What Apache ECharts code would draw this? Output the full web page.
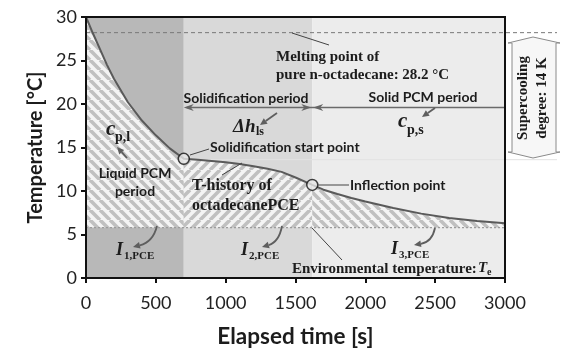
<!DOCTYPE html>
<html><head><meta charset="utf-8">
<script src="https://cdn.jsdelivr.net/npm/echarts@6/dist/echarts.min.js"></script>
<style>html,body{margin:0;padding:0;background:#fff}#c{width:564px;height:353px}</style>
</head><body><div id="c"></div>
<script>
// ---- data ----
const timeS = [0,50,100,150,200,300,400,500,600,700,800,900,1000,1100,1200,1300,1400,1500,1620,1700,1800,1900,2000,2200,2400,2600,2800,3000];
const tempC = [30,28.1,26.3,24.5,22.9,20.2,18.1,16.4,14.9,13.7,13.6,13.45,13.3,13.1,12.85,12.55,12.2,11.55,10.7,10.15,9.65,9.2,8.8,8.05,7.4,6.9,6.55,6.3];
const periodBounds = [0, 700, 1620, 3000];
const envTemp = 5.8;
const meltTemp = 28.2;
const startPoint = [700, 13.7];
const inflectionPoint = [1620, 10.7];
const xTickInterval = 500;
const yTickInterval = 5;

// ---- styles ----
const bandColors = ['#b8b8b8', '#d9d9d9', '#ececec'];
const SERIF = '"Liberation Serif", "Times New Roman", serif';
const SANS = 'Lato, "Open Sans", sans-serif';
const TXT = '#1c1c1c';
const ARW = '#5e5e5e';

function hatch(dir){
  const s = 10, c = document.createElement('canvas');
  c.width = s; c.height = s;
  const g = c.getContext('2d');
  g.fillStyle = '#f4f4f4'; g.fillRect(0,0,s,s);
  g.strokeStyle = '#c0c0c0'; g.lineWidth = 3.6; g.beginPath();
  for (let k=-1;k<=1;k++){
    if (dir > 0){ g.moveTo(k*s, s); g.lineTo(k*s+s, 0); }
    else { g.moveTo(k*s, 0); g.lineTo(k*s+s, s); }
  }
  g.stroke();
  return {image: c, repeat: 'repeat'};
}
const hatchFills = [hatch(-1), hatch(1), hatch(-1)];

const curveData = timeS.map((t,i)=>[t, tempC[i]]);
const segData = [];
for (let i=0;i<periodBounds.length-1;i++) segData.push([periodBounds[i], periodBounds[i+1]]);

function arrowEls(x1,y1,x2,y2,cx,cy){
  const els = [];
  const fx = cx!==undefined ? cx : x1, fy = cy!==undefined ? cy : y1;
  const a = Math.atan2(y2-fy, x2-fx), L = 7, W = 3.3;
  const bx = x2 - L*Math.cos(a), by = y2 - L*Math.sin(a);
  if (cx!==undefined) els.push({type:'bezierCurve', z:100, shape:{x1,y1,x2:bx,y2:by,cpx1:cx,cpy1:cy}, style:{stroke:ARW,lineWidth:1.8,fill:null}});
  else els.push({type:'line', z:100, shape:{x1,y1,x2:bx,y2:by}, style:{stroke:ARW,lineWidth:1.8}});
  els.push({type:'polygon', z:100, shape:{points:[[x2,y2],[bx+W*Math.sin(a),by-W*Math.cos(a)],[bx-W*Math.sin(a),by+W*Math.cos(a)]]}, style:{fill:ARW}});
  return els;
}
function leader(x1,y1,x2,y2){
  return {type:'line', z:100, shape:{x1,y1,x2,y2}, style:{stroke:'#444',lineWidth:1}};
}
function txt(x,y,text,font,align,rot){
  return {type:'text', z:101, x, y, rotation: rot||0,
    style:{text, font, fill:TXT, align:align||'left', verticalAlign:'middle', textAlign:align||'left', textVerticalAlign:'middle'}};
}

const chart = echarts.init(document.getElementById('c'), null, {renderer:'canvas'});

const graphics = [].concat(
  [
    txt(276,57,'Melting point of','bold 15px '+SERIF),
    txt(276,75,'pure n-octadecane: 28.2 °C','bold 15px '+SERIF),
    leader(292,33,329,45),
    txt(246,98,'Solidification period','bold 14px '+SANS,'center'),
    txt(423,97,'Solid PCM period','bold 14px '+SANS,'center'),
    txt(233,127,'Δh','italic bold 19px '+SERIF),
    txt(256,132,'ls','bold 12px '+SERIF),
    txt(398,122,'c','italic bold 21px '+SERIF),
    txt(407,130,'p,s','bold 14px '+SERIF),
    txt(106,130,'c','italic bold 21px '+SERIF),
    txt(115,137,'p,l','bold 14px '+SERIF),
    txt(210,147,'Solidification start point','bold 14px '+SANS),
    leader(190,155,209,149),
    txt(135,173,'Liquid PCM','bold 14px '+SANS,'center'),
    txt(135,191,'period','bold 14px '+SANS,'center'),
    txt(192,186,'T-history of','bold 16px '+SERIF),
    txt(192,206,'octadecanePCE','bold 16px '+SERIF),
    leader(222,175,242,163),
    txt(350,185,'Inflection point','bold 14px '+SANS),
    leader(318,185,349,185),
    txt(116,250,'I','italic bold 18px '+SERIF),
    txt(124,256,'1,PCE','bold 11px '+SERIF),
    txt(241,250,'I','italic bold 18px '+SERIF),
    txt(249,256,'2,PCE','bold 11px '+SERIF),
    txt(391,249,'I','italic bold 18px '+SERIF),
    txt(399,255,'3,PCE','bold 11px '+SERIF),
    txt(292,269,'Environmental temperature:','bold 15px '+SERIF),
    txt(478,268,'T','italic bold 15px '+SERIF),
    txt(487,272,'e','bold 10px '+SERIF),
    leader(342,260,312,228),
    {type:'polygon', z:99, shape:{points:[[508,43],[533,37],[560,43],[556,43],[556,152],[560,152],[533,158],[508,152],[512,152],[512,43]]},
      style:{fill:'#f7f7f7', stroke:'#8a8a8a', lineWidth:1}},
    txt(523,98,'Supercooling','bold 15px '+SERIF,'center',Math.PI/2),
    txt(542,98,'degree: 14 K','bold 15px '+SERIF,'center',Math.PI/2)
  ],
  arrowEls(277,113,260,125),
  arrowEls(435,108,422,117),
  arrowEls(127,158,117,147),
  arrowEls(157,226,133,247,153,242),
  arrowEls(282,226,262,247,279,242),
  arrowEls(435,228,414,245,432,242)
);

const option = {
  animation:false,
  grid:{left:86,right:59,top:17,bottom:75,show:true,borderColor:'#111',borderWidth:2,backgroundColor:'transparent',z:20},
  xAxis:{type:'value',min:0,max:3000,interval:xTickInterval,
    name:'Elapsed time [s]',nameLocation:'middle',nameGap:47,
    nameTextStyle:{fontFamily:SANS,fontWeight:'bold',fontSize:22.5,color:TXT},
    axisLine:{show:true,onZero:false,lineStyle:{color:'#111',width:2}},
    axisTick:{show:true,inside:false,length:5,lineStyle:{color:'#111',width:2}},
    axisLabel:{margin:16,fontFamily:SANS,fontSize:18,color:'#222',formatter:v=>String(v)},
    splitLine:{show:false},z:20},
  yAxis:{type:'value',min:0,max:30,interval:yTickInterval,
    name:'Temperature [°C]',nameLocation:'middle',nameGap:36,
    nameTextStyle:{fontFamily:SANS,fontWeight:'bold',fontSize:20,color:TXT},
    axisLine:{show:true,onZero:false,lineStyle:{color:'#111',width:2}},
    axisTick:{show:true,inside:false,length:5,lineStyle:{color:'#111',width:2}},
    axisLabel:{margin:9,fontFamily:SANS,fontSize:18,color:'#222'},
    splitLine:{show:false},z:20},
  series:[
    {type:'custom', name:'bands', silent:true, z:1, data:segData, encode:{x:[0,1]},
     renderItem:(params, api)=>{
       const i = params.dataIndex;
       const p0 = api.coord([api.value(0), 30]), p1 = api.coord([api.value(1), 0]);
       return {type:'rect', shape:{x:p0[0], y:p0[1], width:p1[0]-p0[0], height:p1[1]-p0[1]}, style:{fill:bandColors[i]}};
     }},
    {type:'custom', name:'hatch', silent:true, z:2, data:segData, encode:{x:[0,1]},
     renderItem:(params, api)=>{
       const i = params.dataIndex, a = api.value(0), b = api.value(1);
       const pts = [];
       timeS.forEach((t,k)=>{ if (t>=a && t<=b) pts.push(api.coord([t, tempC[k]])); });
       pts.push(api.coord([b, envTemp]));
       pts.push(api.coord([a, envTemp]));
       return {type:'polygon', shape:{points:pts}, style:{fill:hatchFills[i]}};
     }},
    {type:'custom', name:'guides', silent:true, z:3, data:[[0,3000]], encode:{x:[0,1]}, clip:false,
     renderItem:(params, api)=>{
       const l = api.coord([0, envTemp]), r = api.coord([3000, envTemp]);
       const m0 = api.coord([0, meltTemp]), m1 = api.coord([3000, meltTemp]);
       const s0 = api.coord([startPoint[0], startPoint[1]-0.1]), s1 = api.coord([3000, startPoint[1]-0.1]);
       const ya = api.coord([0, 19.6])[1];
       const xa = api.coord([periodBounds[1],0])[0], xb = api.coord([periodBounds[2],0])[0], xc = api.coord([periodBounds[3],0])[0];
       const head = (tx, dir)=>({type:'polygon', shape:{points:[[tx,ya],[tx-dir*10,ya-3.5],[tx-dir*7,ya],[tx-dir*10,ya+3.5]]}, style:{fill:'#666'}});
       return {type:'group', children:[
         {type:'line', shape:{x1:l[0],y1:l[1],x2:r[0],y2:r[1]}, style:{stroke:'#9c9c9c',lineWidth:1.2,lineDash:[2,2]}},
         {type:'line', shape:{x1:m0[0],y1:m0[1],x2:m1[0]+52,y2:m1[1]}, style:{stroke:'#777',lineWidth:1,lineDash:[4,3]}},
         {type:'line', shape:{x1:s0[0],y1:s0[1],x2:s1[0]+52,y2:s1[1]}, style:{stroke:'#e2e2e2',lineWidth:1}},
         {type:'line', shape:{x1:xa+3,y1:ya,x2:xc,y2:ya}, style:{stroke:'#6a6a6a',lineWidth:1.5}},
         head(xa,-1), head(xb-1,1), head(xb+1,-1)
       ]};
     }},
    {type:'line', name:'T-history', z:5, data:curveData, symbol:'none', smooth:false,
     lineStyle:{color:'#5a5a5a',width:2}},
    {type:'scatter', name:'points', z:6, data:[startPoint, inflectionPoint], symbol:'circle', symbolSize:11,
     itemStyle:{color:'#e6e6e6',borderColor:'#111',borderWidth:1.5}}
  ],
  graphic: graphics
};
chart.setOption(option);
</script>
</body></html>
